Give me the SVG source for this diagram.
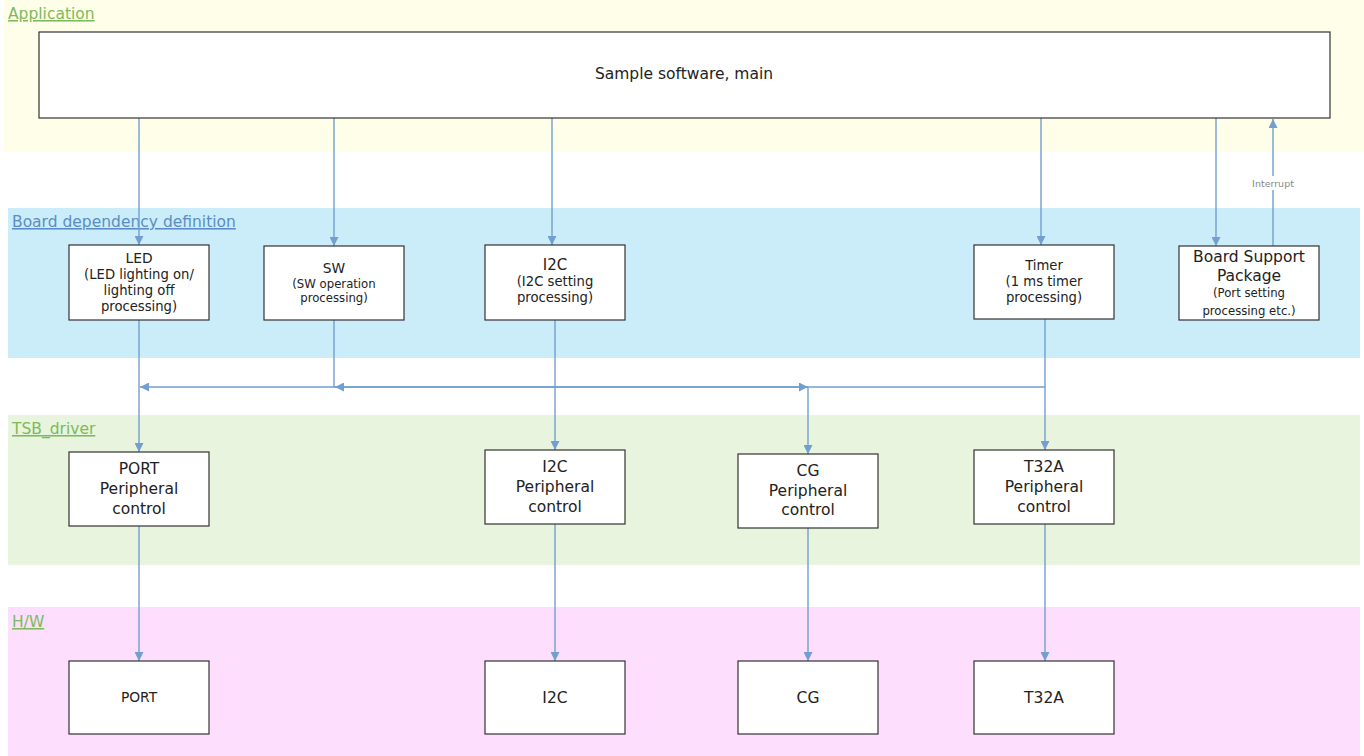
<svg xmlns="http://www.w3.org/2000/svg" width="1364" height="756" viewBox="0 0 1364 756">
<style>
text{font-family:"DejaVu Sans","Liberation Sans",sans-serif;fill:#222;text-anchor:middle}
.band-label{text-anchor:start;font-size:15.5px;text-decoration:underline}
.g{fill:#7CBA5C}
.b{fill:#5B8DC4}
.box{fill:#fff;stroke:#333;stroke-width:1.2}
.c{fill:none;stroke:#729FCF;stroke-width:1.4}
.s15{font-size:15.5px}
.s12{font-size:13.2px}
.s11{font-size:11.7px}
.s13{font-size:15px}
.s14{font-size:13.8px}
</style>
<defs>
<marker id="ah" viewBox="0 0 10 10" refX="10" refY="5" markerWidth="9" markerHeight="9" orient="auto" markerUnits="userSpaceOnUse">
<path d="M0,0 L10,5 L0,10 z" fill="#729FCF"/>
</marker>
</defs>
<rect width="1364" height="756" fill="#fff"/>
<g id="bands">
<rect x="4" y="0" width="1360" height="152" fill="#FEFEE9"/>
<rect x="8" y="208" width="1352" height="150" fill="#CAEDF9"/>
<rect x="8" y="415" width="1352" height="150" fill="#E8F4DD"/>
<rect x="8" y="607" width="1352" height="149" fill="#FDDFFD"/>
<text class="band-label g" x="8" y="19">Application</text>
<text class="band-label b" x="12" y="227">Board dependency definition</text>
<text class="band-label g" x="12" y="434">TSB_driver</text>
<text class="band-label g" x="12" y="627">H/W</text>
</g>
<g id="connectors">
<line class="c" x1="139" y1="118" x2="139" y2="245" marker-end="url(#ah)"/>
<line class="c" x1="334" y1="118" x2="334" y2="246" marker-end="url(#ah)"/>
<line class="c" x1="552" y1="118" x2="552" y2="245" marker-end="url(#ah)"/>
<line class="c" x1="1041" y1="118" x2="1041" y2="245" marker-end="url(#ah)"/>
<line class="c" x1="1216" y1="118" x2="1216" y2="246" marker-end="url(#ah)"/>
<line class="c" x1="1273" y1="246" x2="1273" y2="119" marker-end="url(#ah)"/>
<rect x="1248" y="176" width="50" height="14" fill="#fff"/>
<text x="1273" y="186.5" style="font-size:9.5px;fill:#888">Interrupt</text>
<line class="c" x1="139" y1="320" x2="139" y2="452" marker-end="url(#ah)"/>
<polyline class="c" points="334,320 334,387 140,387" marker-end="url(#ah)"/>
<polyline class="c" points="1045,319 1045,387 335,387" marker-end="url(#ah)"/>
<line class="c" x1="1045" y1="387" x2="1045" y2="450" marker-end="url(#ah)"/>
<line class="c" x1="334" y1="387" x2="808" y2="387" marker-end="url(#ah)"/>
<line class="c" x1="808" y1="387" x2="808" y2="454" marker-end="url(#ah)"/>
<line class="c" x1="555" y1="320" x2="555" y2="450" marker-end="url(#ah)"/>
<line class="c" x1="139" y1="526" x2="139" y2="661" marker-end="url(#ah)"/>
<line class="c" x1="555" y1="524" x2="555" y2="661" marker-end="url(#ah)"/>
<line class="c" x1="808" y1="528" x2="808" y2="661" marker-end="url(#ah)"/>
<line class="c" x1="1045" y1="524" x2="1045" y2="661" marker-end="url(#ah)"/>
</g>
<g id="main">
<rect class="box" x="39" y="32" width="1291" height="86"/>
<text class="s15" x="684" y="79">Sample software, main</text>
</g>
<g id="led">
<rect class="box" x="69" y="245" width="140" height="75"/>
<text class="s14" x="139" y="263">LED</text>
<text class="s12" x="139" y="279">(LED lighting on/</text>
<text class="s12" x="139" y="295">lighting off</text>
<text class="s12" x="139" y="311">processing)</text>
</g>
<g id="sw">
<rect class="box" x="264" y="246" width="140" height="74"/>
<text class="s14" x="334" y="273">SW</text>
<text class="s11" x="334" y="288">(SW operation</text>
<text class="s11" x="334" y="302">processing)</text>
</g>
<g id="i2c-board">
<rect class="box" x="485" y="245" width="140" height="75"/>
<text class="s13" x="555" y="270">I2C</text>
<text class="s12" x="555" y="286">(I2C setting</text>
<text class="s12" x="555" y="302">processing)</text>
</g>
<g id="timer">
<rect class="box" x="974" y="245" width="140" height="74"/>
<text class="s12" x="1044" y="270">Timer</text>
<text class="s12" x="1044" y="286">(1 ms timer</text>
<text class="s12" x="1044" y="302">processing)</text>
</g>
<g id="bsp">
<rect class="box" x="1179" y="246" width="140" height="74"/>
<text class="s15" x="1249" y="262">Board Support</text>
<text class="s15" x="1249" y="281">Package</text>
<text class="s11" x="1249" y="297">(Port setting</text>
<text class="s11" x="1249" y="315">processing etc.)</text>
</g>
<g id="port-drv">
<rect class="box" x="69" y="452" width="140" height="74"/>
<text class="s15" x="139" y="474">PORT</text>
<text class="s15" x="139" y="494">Peripheral</text>
<text class="s15" x="139" y="514">control</text>
</g>
<g id="i2c-drv">
<rect class="box" x="485" y="450" width="140" height="74"/>
<text class="s15" x="555" y="472">I2C</text>
<text class="s15" x="555" y="492">Peripheral</text>
<text class="s15" x="555" y="512">control</text>
</g>
<g id="cg-drv">
<rect class="box" x="738" y="454" width="140" height="74"/>
<text class="s15" x="808" y="476">CG</text>
<text class="s15" x="808" y="496">Peripheral</text>
<text class="s15" x="808" y="515">control</text>
</g>
<g id="t32a-drv">
<rect class="box" x="974" y="450" width="140" height="74"/>
<text class="s15" x="1044" y="472">T32A</text>
<text class="s15" x="1044" y="492">Peripheral</text>
<text class="s15" x="1044" y="512">control</text>
</g>
<g id="port-hw">
<rect class="box" x="69" y="661" width="140" height="73"/>
<text class="s14" x="139" y="702">PORT</text>
</g>
<g id="i2c-hw">
<rect class="box" x="485" y="661" width="140" height="73"/>
<text class="s15" x="555" y="703">I2C</text>
</g>
<g id="cg-hw">
<rect class="box" x="738" y="661" width="140" height="73"/>
<text class="s15" x="808" y="703">CG</text>
</g>
<g id="t32a-hw">
<rect class="box" x="974" y="661" width="140" height="73"/>
<text class="s15" x="1044" y="703">T32A</text>
</g>
</svg>
